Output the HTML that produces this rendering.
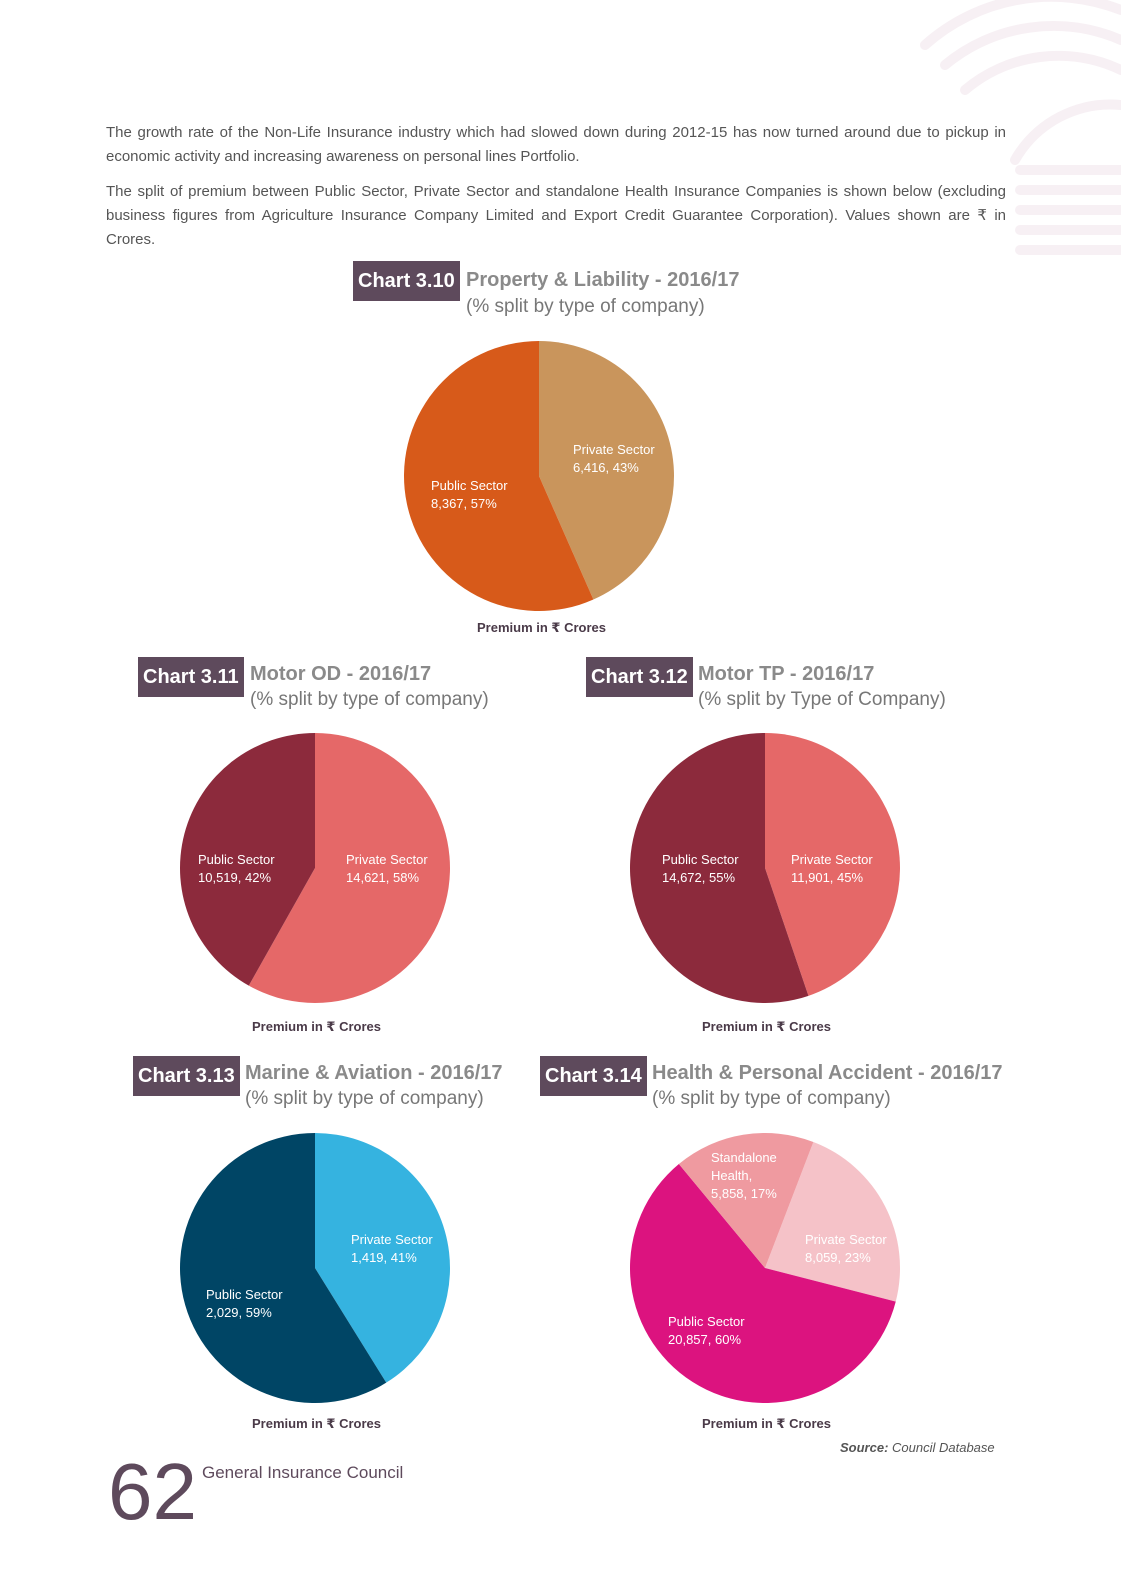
<!DOCTYPE html>
<html><head><meta charset="utf-8">
<style>
body{margin:0;width:1121px;height:1577px;background:#fff;position:relative;overflow:hidden;font-family:"Liberation Sans Narrow","Liberation Sans","DejaVu Sans",sans-serif;}
.abs{position:absolute;white-space:nowrap;}
.para{position:absolute;left:106px;width:900px;font-size:15px;color:#555;line-height:24px;}
.j{text-align:justify;text-align-last:justify;}
.box{position:absolute;background:#5e4a5c;color:#fff;font-weight:bold;font-size:20px;height:40px;line-height:40px;padding:0 5px;}
.tt{position:absolute;color:#8a8a8a;font-weight:bold;font-size:20px;white-space:nowrap;}
.st{position:absolute;color:#777;font-size:19px;white-space:nowrap;}
.prem{position:absolute;font-size:13px;font-weight:bold;color:#4a3a48;white-space:nowrap;}
</style></head><body>
<svg class="abs" style="left:0;top:0" width="1121" height="1577">
<g fill="none" stroke="#f7f0f4" stroke-width="10" stroke-linecap="round">
<path d="M925 45 A190 190 0 0 1 1121 10"/>
<path d="M945 65 A170 170 0 0 1 1121 40"/>
<path d="M965 90 A145 145 0 0 1 1121 70"/>
<path d="M1015 160 A110 110 0 0 1 1121 105"/>
<path d="M1020 250 L1121 250"/><path d="M1020 230 L1121 230"/><path d="M1020 210 L1121 210"/><path d="M1020 190 L1121 190"/><path d="M1020 170 L1121 170"/>
</g></svg>
<div class="para j" style="top:121px">The growth rate of the Non-Life Insurance industry which had slowed down during 2012-15 has now turned around due to pickup in</div>
<div class="para" style="top:145px">economic activity and increasing awareness on personal lines Portfolio.</div>
<div class="para j" style="top:180px">The split of premium between Public Sector, Private Sector and standalone Health Insurance Companies is shown below (excluding</div>
<div class="para j" style="top:204px">business figures from Agriculture Insurance Company Limited and Export Credit Guarantee Corporation). Values shown are ₹ in</div>
<div class="para" style="top:228px">Crores.</div>

<div class="box" style="left:353px;top:261px">Chart 3.10</div>
<div class="tt" style="left:466px;top:269px">Property &amp; Liability - 2016/17</div>
<div class="st" style="left:466px;top:296px">(% split by type of company)</div>
<div class="prem" style="left:477px;top:620px">Premium in ₹ Crores</div>

<div class="box" style="left:138px;top:657px">Chart 3.11</div>
<div class="tt" style="left:250px;top:663px">Motor OD - 2016/17</div>
<div class="st" style="left:250px;top:689px">(% split by type of company)</div>
<div class="prem" style="left:252px;top:1019px">Premium in ₹ Crores</div>

<div class="box" style="left:586px;top:657px">Chart 3.12</div>
<div class="tt" style="left:698px;top:663px">Motor TP - 2016/17</div>
<div class="st" style="left:698px;top:689px">(% split by Type of Company)</div>
<div class="prem" style="left:702px;top:1019px">Premium in ₹ Crores</div>

<div class="box" style="left:133px;top:1056px">Chart 3.13</div>
<div class="tt" style="left:245px;top:1062px">Marine &amp; Aviation - 2016/17</div>
<div class="st" style="left:245px;top:1088px">(% split by type of company)</div>
<div class="prem" style="left:252px;top:1416px">Premium in ₹ Crores</div>

<div class="box" style="left:540px;top:1056px">Chart 3.14</div>
<div class="tt" style="left:652px;top:1062px">Health &amp; Personal Accident - 2016/17</div>
<div class="st" style="left:652px;top:1088px">(% split by type of company)</div>
<div class="prem" style="left:702px;top:1416px">Premium in ₹ Crores</div>

<div class="abs" style="left:840px;top:1440px;font-size:13px;color:#555;font-style:italic"><b>Source:</b> Council Database</div>
<div class="abs" style="left:108px;top:1452px;font-size:80px;line-height:80px;color:#5e4a5c">62</div>
<div class="abs" style="left:202px;top:1463px;font-size:17px;color:#5e4a5c">General Insurance Council</div>

<svg id="pies" class="abs" style="left:0;top:0" width="1121" height="1577"></svg>
<script>
const plNames=["Private Sector","Public Sector"];
const plValues=[6416,8367];
const plPct=[43,57];
const odNames=["Private Sector","Public Sector"];
const odValues=[14621,10519];
const odPct=[58,42];
const tpNames=["Private Sector","Public Sector"];
const tpValues=[11901,14672];
const tpPct=[45,55];
const maNames=["Private Sector","Public Sector"];
const maValues=[1419,2029];
const maPct=[41,59];
const hpNames=["Private Sector","Public Sector","Standalone Health,"];
const hpValues=[8059,20857,5858];
const hpPct=[23,60,17];

const NS="http://www.w3.org/2000/svg";
const svg=document.getElementById('pies');
function fmt(v){return v.toLocaleString('en-US');}
function pie(id,cx,cy,r,names,values,pcts,colors,startDeg,labelPos,labelColors){
  const g=document.createElementNS(NS,'g');
  
  
  svg.appendChild(g);
  const total=values.reduce((a,b)=>a+b,0);
  let a=startDeg*Math.PI/180;
  values.forEach((v,i)=>{
    const sweep=v/total*2*Math.PI;
    const a2=a+sweep;
    const x1=cx+r*Math.sin(a),y1=cy-r*Math.cos(a);
    const x2=cx+r*Math.sin(a2),y2=cy-r*Math.cos(a2);
    const p=document.createElementNS(NS,'path');
    p.setAttribute('d',`M${cx} ${cy}L${x1} ${y1}A${r} ${r} 0 ${sweep>Math.PI?1:0} 1 ${x2} ${y2}Z`);
    p.setAttribute('fill',colors[i]);
    
    
    g.appendChild(p);
    a=a2;
  });
  values.forEach((v,i)=>{
    const lp=labelPos[i];
    const lines=names[i].startsWith('Standalone')?['Standalone','Health,',fmt(v)+', '+pcts[i]+'%']:[names[i],fmt(v)+', '+pcts[i]+'%'];
    const t=document.createElementNS(NS,'text');
    t.setAttribute('x',cx+lp[0]);t.setAttribute('y',cy+lp[1]);
    t.setAttribute('fill',labelColors?labelColors[i]:'#fff');
    t.setAttribute('font-size','13');
    t.setAttribute('font-family','"Liberation Sans Narrow","Liberation Sans",sans-serif');
    
    
    lines.forEach((ln,k)=>{const s=document.createElementNS(NS,'tspan');s.setAttribute('x',cx+lp[0]);s.setAttribute('dy',k?18:0);s.textContent=ln;t.appendChild(s);});
    g.appendChild(t);
  });
}
pie('pie-property-liability',539,476,135,plNames,plValues,plPct,['#c9955c','#d75a1a'],0,[[34,-22],[-108,14]]);
pie('pie-motor-od',315,868,135,odNames,odValues,odPct,['#e56868','#8c2a3c'],0,[[31,-4],[-117,-4]]);
pie('pie-motor-tp',765,868,135,tpNames,tpValues,tpPct,['#e56868','#8c2a3c'],0,[[26,-4],[-103,-4]]);
pie('pie-marine-aviation',315,1268,135,maNames,maValues,maPct,['#35b3e0','#004565'],0,[[36,-24],[-109,31]]);
pie('pie-health-pa',765,1268,135,hpNames,hpValues,hpPct,['#f5c2c8','#dc137f','#ef9aa0'],21,[[40,-24],[-97,58],[-54,-106]]);
</script>
</body></html>
